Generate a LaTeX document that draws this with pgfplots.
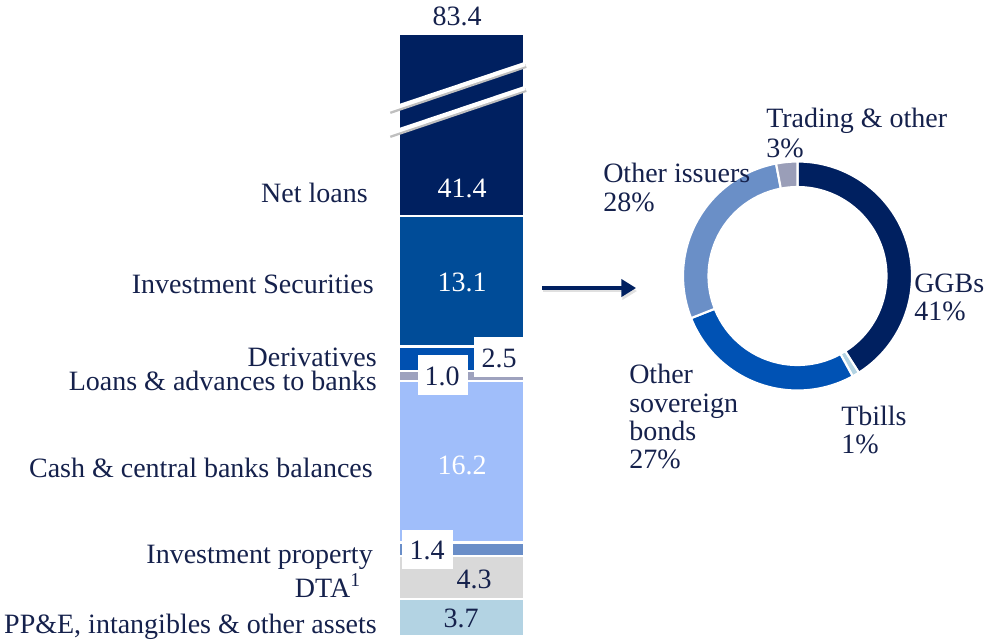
\documentclass[border=0pt]{standalone}
\usepackage{pgfplots}
\pgfplotsset{compat=1.18}
\usepackage{pgfplotstable}
\usepackage{fontspec}
\setmainfont{Liberation Serif}
\usetikzlibrary{arrows.meta}

\definecolor{txt}{HTML}{15214C}
\definecolor{navy}{HTML}{002060}
\definecolor{isblue}{HTML}{004C98}
\definecolor{deriv}{HTML}{0050B0}
\definecolor{loansb}{HTML}{9EA2BE}
\definecolor{cash}{HTML}{A0BEFA}
\definecolor{invprop}{HTML}{6A8EC8}
\definecolor{dta}{HTML}{D9D9D9}
\definecolor{ppe}{HTML}{B3D3E3}
\definecolor{sov}{HTML}{0052B4}
\definecolor{issuers}{HTML}{6A8FC7}
\definecolor{trading}{HTML}{9A9EB8}

% securities breakdown (%), clockwise from 12 o'clock
\pgfplotstableread[col sep=comma]{
share,colour
41,navy
1,ppe
27,sov
28,issuers
3,trading
}\donutdata

\begin{document}
\begin{tikzpicture}[x=0.75pt,y=-0.75pt,
  every node/.style={font=\fontsize{21}{21.4}\selectfont, text=txt, inner sep=0pt}]
\useasboundingbox (0,0) rectangle (988,640);
\coordinate (barorigin) at (399,636);

% stacked asset bar (net loans drawn compressed: axis break)
\begin{scope}[x=1cm,y=1cm]
\begin{axis}[
    at={(barorigin)}, anchor=south west,
    scale only axis, width=93.75pt, height=451.5pt,
    hide axis, clip=false,
    ybar stacked, bar width=93.75pt,
    xmin=-0.5, xmax=0.5, ymin=0, ymax=60.5,
    every axis plot/.append style={draw=white, line width=1.6pt},
]
\addplot[fill=ppe]     coordinates {(0,3.7)};   % PP&E, intangibles & other
\addplot[fill=dta]     coordinates {(0,4.3)};   % DTA
\addplot[fill=invprop] coordinates {(0,1.4)};   % investment property
\addplot[fill=cash]    coordinates {(0,16.2)};  % cash & CB balances
\addplot[fill=loansb]  coordinates {(0,1.0)};   % loans & adv. to banks
\addplot[fill=deriv]   coordinates {(0,2.5)};   % derivatives
\addplot[fill=isblue]  coordinates {(0,13.1)};  % investment securities
\addplot[fill=navy]    coordinates {(0,18.3)};  % net loans 41.4, shown cut
\end{axis}
\end{scope}

% break marks
\foreach \a/\b in {110/64, 134/88}{
  \draw[black!25, line width=3pt] (390,\a+2) -- (526,\b+2);
  \draw[white, line width=3.2pt] (388,\a) -- (525,\b);
}

% value labels
\node[anchor=base] at (457,25) {83.4};
\node[anchor=base, text=white] at (462,197) {41.4};
\node[anchor=base, text=white] at (462,291) {13.1};
\node[anchor=base, text=white] at (462,474) {16.2};
\node[anchor=base] at (474,588) {4.3};
\node[anchor=base] at (461,627) {3.7};
\fill[white] (474,337) rectangle (523,377);
\node[anchor=base] at (499,367) {2.5};
\fill[white] (418,355) rectangle (468,395);
\node[anchor=base] at (442,385) {1.0};
\fill[white] (402,530) rectangle (453,569);
\node[anchor=base] at (427,559) {1.4};

% category labels
\node[anchor=base east] at (368,202) {Net loans};
\node[anchor=base east] at (374,293) {Investment Securities};
\node[anchor=base east, align=right, font=\fontsize{21}{18}\selectfont]
  at (377,390) {Derivatives\hspace{3pt}\\Loans \& advances to banks};
\node[anchor=base east] at (373,477) {Cash \& central banks balances};
\node[anchor=base east] at (373,563) {Investment property};
\node[anchor=base east] at (361,597) {DTA\textsuperscript{1}};
\node[anchor=base east] at (377,633) {PP\&E, intangibles \& other assets};

% arrow
\draw[black!12, line width=2.2pt, -{Triangle[length=11pt,width=13pt]}] (543,291) -- (637,291);
\draw[navy, line width=2.3pt, -{Triangle[length=11pt,width=13pt]}] (542,288) -- (636,288);

% donut
\pgfplotstablegetrowsof{\donutdata}
\pgfmathtruncatemacro\lastrow{\pgfplotsretval-1}
\xdef\angA{90}
\begin{scope}[shift={(797.5,276)}, x=0.75pt, y=0.75pt]
\foreach \i in {0,...,\lastrow}{
  \pgfplotstablegetelem{\i}{share}\of{\donutdata}\let\sh\pgfplotsretval
  \pgfplotstablegetelem{\i}{colour}\of{\donutdata}\let\col\pgfplotsretval
  \pgfmathsetmacro\angB{\angA-3.6*\sh}
  \filldraw[fill=\col, draw=white, line width=1.6pt]
    (\angA:114.5) arc[start angle=\angA, end angle=\angB, radius=114.5]
    -- (\angB:89) arc[start angle=\angB, end angle=\angA, radius=89] -- cycle;
  \xdef\angA{\angB}
}
\end{scope}

% donut labels
\node[anchor=base west] at (766,127) {Trading \& other};
\node[anchor=base west] at (766,157) {3\%};
\node[anchor=base west] at (603,182) {Other issuers};
\node[anchor=base west] at (603,211) {28\%};
\node[anchor=base west] at (914,292) {GGBs};
\node[anchor=base west] at (914,320) {41\%};
\node[anchor=base west] at (629,383) {Other};
\node[anchor=base west] at (629,412) {sovereign};
\node[anchor=base west] at (629,440) {bonds};
\node[anchor=base west] at (629,468) {27\%};
\node[anchor=base west] at (841,425) {Tbills};
\node[anchor=base west] at (841,453) {1\%};
\end{tikzpicture}
\end{document}
